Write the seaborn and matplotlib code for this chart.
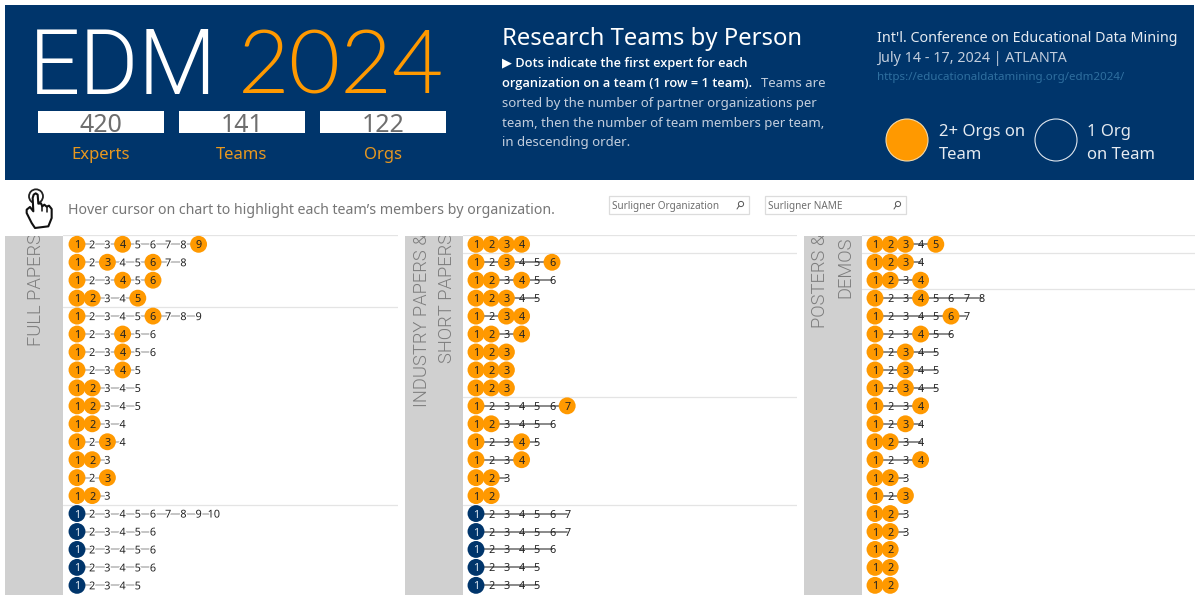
import matplotlib
matplotlib.use("Agg")
import matplotlib.pyplot as plt
import pandas as pd
import seaborn as sns
from matplotlib.patches import Circle, Rectangle, Polygon
from matplotlib.transforms import Bbox
import matplotlib.patheffects as pe

# ====== DATA ======
FULL_SIZES = [9, 8, 6, 5, 9, 6, 6, 5, 5, 5, 4, 4, 3, 3, 3, 10, 6, 6, 6, 5]
FULL_FIRSTS = [[1, 4, 9], [1, 3, 6], [1, 4, 6], [1, 2, 5], [1, 6], [1, 4], [1, 4], [1, 4], [1, 2], [1, 2],
               [1, 2], [1, 3], [1, 2], [1, 3], [1, 2], [1], [1], [1], [1], [1]]
FULL_BREAKS = [3, 14]

INDUSTRY_SIZES = [4, 6, 6, 5, 4, 4, 3, 3, 3, 7, 6, 5, 4, 3, 2, 7, 7, 6, 5, 5]
INDUSTRY_FIRSTS = [[1, 2, 3, 4], [1, 3, 6], [1, 2, 4], [1, 2, 3], [1, 3, 4], [1, 2, 4], [1, 2, 3], [1, 2, 3],
                   [1, 2, 3], [1, 7], [1, 2], [1, 4], [1, 4], [1, 2], [1, 2], [1], [1], [1], [1], [1]]
INDUSTRY_BREAKS = [0, 8, 14]

POSTER_SIZES = [5, 4, 4, 8, 7, 6, 5, 5, 5, 4, 4, 4, 4, 3, 3, 3, 3, 2, 2, 2]
POSTER_FIRSTS = [[1, 2, 3, 5], [1, 2, 3], [1, 2, 4], [1, 4], [1, 6], [1, 4], [1, 3], [1, 3], [1, 3], [1, 4],
                 [1, 3], [1, 2], [1, 4], [1, 2], [1, 3], [1, 2], [1, 2], [1, 2], [1, 2], [1, 2]]
POSTER_BREAKS = [0, 2]

KPI_VALUES = ["420", "141", "122"]
KPI_LABELS = ["Experts", "Teams", "Orgs"]

# ====== STYLE ======
NAVY = "#00356b"
ORANGE = "#ff9900"
GREY_TEXT = "#767676"
FONT = ["Noto Sans", "DejaVu Sans"]
BOLD = ["Open Sans", "DejaVu Sans"]
W, H = 1200, 595
HAND = [(35, 80), (45, 72), (55, 85), (53, 45), (56, 35), (62, 31), (68, 35), (70, 62), (78, 61), (82, 70),
        (88, 65), (95, 71), (102, 68), (110, 78), (110, 105), (100, 130), (60, 135), (50, 120), (35, 90)]


def team_table(sizes, firsts):
    rows = []
    for team, (size, first) in enumerate(zip(sizes, firsts)):
        multi = len(first) > 1
        for rank in range(1, size + 1):
            rows.append({"team": team, "rank": rank, "first": rank in first, "multi": multi})
    return pd.DataFrame(rows)


def draw_panel(fig, sizes, firsts, breaks, left, right, x_one, line_color, line_width, halo):
    """One column of teams. left/right/x_one are pixels of the reference."""
    top, bottom = 235, 595
    ax = fig.add_axes([left / W, 1 - bottom / H, (right - left) / W, (bottom - top) / H])
    ax.patch.set_alpha(0)
    data = team_table(sizes, firsts)

    sns.lineplot(data=data, x="rank", y="team", units="team", estimator=None, sort=False,
                 color=line_color, linewidth=line_width, ax=ax, legend=False, zorder=1)
    dots = data[data["first"]]
    sns.scatterplot(data=dots, x="rank", y="team", hue="multi", hue_order=[True, False],
                    palette=[ORANGE, NAVY], s=148, linewidth=0, ax=ax, legend=False, zorder=2)

    for row in data.itertuples():
        color = "#dce6f0" if (row.first and not row.multi) else "#222222"
        txt = ax.text(row.rank, row.team, str(row.rank), ha="center", va="center_baseline",
                      fontsize=7.8, color=color, zorder=3)
        if halo and not row.first:
            txt.set_path_effects([pe.withStroke(linewidth=1.8, foreground="white")])

    for b in breaks:
        ax.axhline(b + 0.5, color="#e4e4e4", linewidth=0.9, zorder=0)
    ax.axhline(-0.52, color="#e4e4e4", linewidth=0.9, zorder=0)

    step_x, step_y = 15.2, 17.95
    ax.set_xlim(1 - (x_one - left) / step_x, 1 + (right - x_one) / step_x)
    ax.set_ylim((bottom - 244.3) / step_y, (top - 244.3) / step_y)
    ax.set_axis_off()
    return ax


def header(bg):
    bg.add_patch(Rectangle((5, 5), 1189, 175, color=NAVY, lw=0))
    bg.text(29, 94, "EDM", color="white", fontsize=65, family="Roboto", fontweight=300, va="baseline")
    bg.text(238, 94, "2024", color=ORANGE, fontsize=64, family="Lato", fontweight=300, va="baseline")

    for x, value, label in zip([38, 179, 320], KPI_VALUES, KPI_LABELS):
        bg.add_patch(Rectangle((x, 111), 126, 22, color="white", lw=0))
        bg.text(x + 63, 132, value, ha="center", va="baseline", fontsize=18, color="#6e6e6e")
        bg.text(x + 63, 153, label, ha="center", va="center_baseline", fontsize=12, color="#e8981f")

    bg.text(502, 45, "Research Teams by Person", color="white", fontsize=17.2, va="baseline")
    body = "#c3cedd"
    kw = dict(fontsize=9.5, va="center_baseline")
    bold_kw = dict(fontsize=9.25, va="center_baseline", color="white", family=BOLD, fontweight=600)
    bg.text(502, 62, "▶ Dots indicate the first expert for each", **bold_kw)
    bg.text(502, 82, "organization on a team (1 row = 1 team).", **bold_kw)
    bg.text(761, 82, "Teams are", color=body, **kw)
    bg.text(502, 102, "sorted by the number of partner organizations per", color=body, **kw)
    bg.text(502, 122, "team, then the number of team members per team,", color=body, **kw)
    bg.text(502, 141, "in descending order.", color=body, **kw)

    bg.text(877, 36, "Int'l. Conference on Educational Data Mining", color="#e6ebf1", fontsize=10.3,
            va="center_baseline")
    bg.text(877, 57, "July 14 - 17, 2024 | ATLANTA", color="#c3cedd", fontsize=10.3, va="center_baseline")
    bg.text(877, 76, "https://educationaldatamining.org/edm2024/", color="#2f6f9f", fontsize=8.3,
            va="center_baseline")

    bg.add_patch(Circle((907, 140), 21, facecolor=ORANGE, edgecolor="#f4d9a8", lw=0.8))
    bg.add_patch(Circle((1056, 140), 21, facecolor=NAVY, edgecolor="#dfe6ee", lw=0.8))
    for x, first, second in [(939, "2+ Orgs on", "Team"), (1087, "1 Org", "on Team")]:
        bg.text(x, 130, first, color="#e6ebf1", fontsize=12, va="center_baseline")
        bg.text(x, 153, second, color="#e6ebf1", fontsize=12, va="center_baseline")


def toolbar(bg):
    to_px = lambda p: (15 + p[0] / 3, 183 + p[1] / 3)
    bg.add_patch(Circle(to_px((63, 40)), 7, facecolor="white", edgecolor="#222222", lw=1.3))
    bg.add_patch(Polygon([to_px(p) for p in HAND], closed=True, facecolor="white", edgecolor="#111111",
                         lw=1.5, joinstyle="round", zorder=3))
    for cx, cy in [(82, 70), (95, 71)]:
        x, y = to_px((cx, cy))
        bg.plot([x, x], [y, y + 5], color="#111111", lw=1.1, zorder=4)
    bg.text(68, 209, "Hover cursor on chart to highlight each team\u2019s members by organization.",
            color=GREY_TEXT, fontsize=10.2, va="center_baseline")

    for x0, x1, label in [(609, 749, "Surligner Organization"), (765, 906, "Surligner NAME")]:
        bg.add_patch(Rectangle((x0, 196), x1 - x0, 18, facecolor="white", edgecolor="#dcdcdc", lw=0.9))
        bg.text(x0 + 3, 205, label, color="#6e6e6e", fontsize=7.2, va="center_baseline")
        bg.add_patch(Circle((x1 - 8, 204), 2.6, facecolor="none", edgecolor="#555555", lw=0.7))
        bg.plot([x1 - 10, x1 - 12], [206, 209], color="#555555", lw=0.7)


def strips(fig, bg):
    clip = Bbox([[0, 0], [W, H - 236]])
    for x0, x1, labels in [(5, 63, [("FULL PAPERS", 36, 346)]),
                           (404.5, 462.5, [("INDUSTRY PAPERS &", 422, 407), ("SHORT PAPERS", 447, 363)]),
                           (804, 862, [("POSTERS &", 820, 328), ("DEMOS", 845, 298)])]:
        bg.add_patch(Rectangle((x0, 236), x1 - x0, 359, color="#d0d0d0", lw=0))
        for text, x, y in labels:
            t = bg.text(x, y, text, rotation=90, ha="center", va="bottom", color="#7d7d7d",
                        fontsize=13.2, family="Roboto", fontweight=300, clip_on=True)
            t.set_clip_box(clip)


def main():
    sns.set_theme(style="white")
    plt.rcParams["font.family"] = FONT

    fig = plt.figure(figsize=(W / 100, H / 100), dpi=100, facecolor="white")
    bg = fig.add_axes([0, 0, 1, 1])
    bg.set_xlim(0, W)
    bg.set_ylim(H, 0)
    bg.set_axis_off()

    header(bg)
    toolbar(bg)
    strips(fig, bg)

    draw_panel(fig, FULL_SIZES, FULL_FIRSTS, FULL_BREAKS, 63, 398, 77, "#b5b5b5", 1.1, True)
    draw_panel(fig, INDUSTRY_SIZES, INDUSTRY_FIRSTS, INDUSTRY_BREAKS, 462.5, 797, 476, "#808080", 1.3, False)
    draw_panel(fig, POSTER_SIZES, POSTER_FIRSTS, POSTER_BREAKS, 862, 1195, 875, "#808080", 1.3, False)

    fig.savefig("out.png", dpi=100, facecolor="white")
    plt.close(fig)


if __name__ == "__main__":
    main()
